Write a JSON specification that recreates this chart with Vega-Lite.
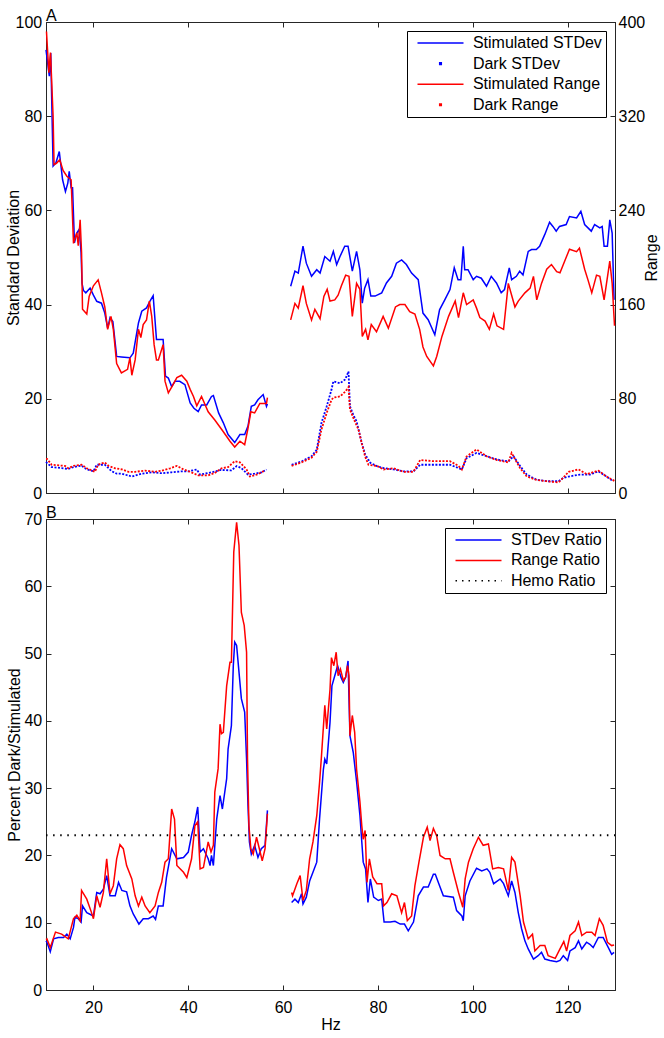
{
  "$schema": "https://vega.github.io/schema/vega-lite/v6.json",
  "padding": {"left": 4, "top": 7, "right": 5, "bottom": 4},
  "background": "white",
  "config": {
    "font": "Liberation Sans",
    "view": {"stroke": "#262626", "strokeWidth": 1},
    "axis": {
      "labelFont": "Liberation Sans", "titleFont": "Liberation Sans",
      "labelFontSize": 16, "titleFontSize": 16, "titleFontWeight": "normal",
      "labelColor": "#000", "titleColor": "#000",
      "domainColor": "#262626", "tickColor": "#262626", "domainWidth": 1, "tickWidth": 1,
      "tickSize": -5, "grid": false
    },
    "axisBottom": {"labelPadding": 14, "titlePadding": 1},
    "title": {"font": "Liberation Sans", "fontSize": 16, "fontWeight": "normal", "color": "#000", "anchor": "start", "frame": "group", "offset": -10}
  },
  "datasets": {
    "sdStim": [
      {"h":10,"v":94.1},{"h":10.7,"v":88.5},{"h":11,"v":93.4},{"h":11.5,"v":69.4},{"h":12.1,"v":70.1},{"h":12.8,"v":72.5},{"h":13.5,"v":66.5},{"h":14.1,"v":64},{"h":14.6,"v":65.8},{"h":14.9,"v":68.3},{"h":15.3,"v":64.8},{"h":15.6,"v":64.8},{"h":16,"v":53.1},{"h":16.5,"v":55.2},{"h":17,"v":56},{"h":17.4,"v":51},{"h":17.6,"v":44.5},{"h":17.9,"v":43},{"h":18.4,"v":42.5},{"h":19.3,"v":43.5},{"h":20,"v":42},{"h":20.7,"v":40.7},{"h":21.7,"v":40.3},{"h":22.4,"v":38.2},{"h":23,"v":35},{"h":23.5,"v":37.2},{"h":24.1,"v":36.4},{"h":24.9,"v":29},{"h":25.9,"v":28.9},{"h":27.7,"v":28.7},{"h":28.4,"v":29.7},{"h":29.5,"v":36.1},{"h":30.2,"v":38.6},{"h":31.2,"v":39.3},{"h":31.9,"v":40.7},{"h":32.6,"v":41.9},{"h":33.3,"v":32.6},{"h":34.7,"v":32.6},{"h":35.2,"v":24.8},{"h":35.8,"v":24.4},{"h":36.5,"v":22.6},{"h":37.2,"v":23.7},{"h":38.2,"v":23.7},{"h":39.3,"v":23},{"h":40.4,"v":19.1},{"h":41.2,"v":18},{"h":42.1,"v":17.3},{"h":42.8,"v":18.7},{"h":43.9,"v":18.7},{"h":44.9,"v":20.5},{"h":45.3,"v":20.7},{"h":46.4,"v":17},{"h":47.4,"v":14.9},{"h":48.4,"v":12.4},{"h":49.8,"v":10.7},{"h":50.9,"v":12.4},{"h":51.9,"v":12.4},{"h":52.6,"v":14.2},{"h":53.3,"v":18.4},{"h":54,"v":18.7},{"h":54.7,"v":19.8},{"h":55.8,"v":20.9},{"h":56.5,"v":18.4},{"h":56.7,"v":18.9},
      {"h":59,"v":null},
      {"h":61.6,"v":43.9},{"h":62.5,"v":47.1},{"h":63.2,"v":46.7},{"h":64.2,"v":52.4},{"h":64.9,"v":48.8},{"h":66,"v":46},{"h":67.1,"v":47.4},{"h":67.8,"v":46.7},{"h":68.8,"v":50.2},{"h":69.9,"v":49.2},{"h":70.6,"v":51.3},{"h":71.3,"v":48.5},{"h":72,"v":50.2},{"h":73,"v":52.4},{"h":73.7,"v":52.4},{"h":74.6,"v":47.1},{"h":75.5,"v":51.3},{"h":76.2,"v":47.4},{"h":76.7,"v":40.3},{"h":77.2,"v":43.5},{"h":77.9,"v":45.3},{"h":78.5,"v":41.8},{"h":79.4,"v":41.8},{"h":80.8,"v":42.5},{"h":81.8,"v":44.6},{"h":82.9,"v":46},{"h":83.9,"v":48.8},{"h":85,"v":49.5},{"h":86,"v":48.5},{"h":87.1,"v":46.7},{"h":88.5,"v":45.3},{"h":89.5,"v":38.2},{"h":90.6,"v":36.8},{"h":92,"v":33.6},{"h":93,"v":38.9},{"h":94.1,"v":41},{"h":95.2,"v":43.2},{"h":96.1,"v":47.8},{"h":96.9,"v":45.3},{"h":97.5,"v":45.3},{"h":98,"v":52.4},{"h":98.3,"v":47.4},{"h":99,"v":47.4},{"h":100.1,"v":45.3},{"h":100.8,"v":46},{"h":101.8,"v":45.6},{"h":102.9,"v":43.9},{"h":103.9,"v":46},{"h":105,"v":44.6},{"h":106,"v":42.5},{"h":106.7,"v":43.2},{"h":107.7,"v":47.8},{"h":108.2,"v":45.3},{"h":109.2,"v":46},{"h":109.9,"v":47.1},{"h":110.6,"v":46.3},{"h":111.7,"v":51.3},{"h":112.4,"v":51.7},{"h":113.4,"v":51.7},{"h":114.1,"v":52.4},{"h":115.2,"v":54.9},{"h":116.2,"v":57.5},{"h":116.9,"v":56.6},{"h":117.6,"v":55.6},{"h":118.3,"v":56.6},{"h":119.7,"v":57},{"h":120.4,"v":58.7},{"h":121.9,"v":58.4},{"h":122.8,"v":59.8},{"h":123.6,"v":57},{"h":125,"v":55.6},{"h":125.7,"v":57},{"h":126.8,"v":56.3},{"h":127.3,"v":56.6},{"h":127.7,"v":52.4},{"h":128.4,"v":52.4},{"h":128.9,"v":58},{"h":129.4,"v":55.2},{"h":129.8,"v":41}
    ],
    "rgStim": [
      {"h":10.1,"v":392},{"h":10.6,"v":357},{"h":10.95,"v":374},{"h":11.5,"v":320},{"h":11.7,"v":279},{"h":12.2,"v":280},{"h":12.9,"v":283},{"h":13.6,"v":274},{"h":14.4,"v":269},{"h":15.3,"v":266},{"h":15.8,"v":212},{"h":16.5,"v":221},{"h":16.8,"v":210},{"h":17.2,"v":232},{"h":17.5,"v":204},{"h":17.7,"v":156},{"h":18.6,"v":152},{"h":19.1,"v":167},{"h":20,"v":176},{"h":21,"v":181},{"h":21.7,"v":170},{"h":22.4,"v":158},{"h":23,"v":139},{"h":23.7,"v":150},{"h":24.2,"v":139},{"h":24.9,"v":110},{"h":25.9,"v":102},{"h":27.2,"v":105},{"h":27.7,"v":115},{"h":28.1,"v":100},{"h":28.8,"v":113},{"h":29.5,"v":139},{"h":30,"v":132},{"h":30.5,"v":143},{"h":31.2,"v":147},{"h":31.8,"v":163},{"h":32.3,"v":150},{"h":32.8,"v":126},{"h":33.3,"v":113},{"h":33.7,"v":113},{"h":34.7,"v":126},{"h":35.1,"v":95},{"h":35.8,"v":85},{"h":36.5,"v":90},{"h":37.6,"v":98},{"h":38.6,"v":100},{"h":39.7,"v":95},{"h":40.4,"v":88},{"h":41.1,"v":82},{"h":41.8,"v":74},{"h":42.8,"v":82},{"h":44.2,"v":69},{"h":45.6,"v":62},{"h":47.4,"v":52},{"h":48.8,"v":44},{"h":49.8,"v":39},{"h":50.9,"v":44},{"h":51.9,"v":41},{"h":52.6,"v":55},{"h":53.2,"v":69},{"h":54,"v":68},{"h":55.1,"v":76},{"h":56.5,"v":76},{"h":56.7,"v":81},
      {"h":59,"v":null},
      {"h":61.6,"v":147},{"h":62.5,"v":161},{"h":63.2,"v":157},{"h":64.2,"v":176},{"h":64.9,"v":161},{"h":66,"v":147},{"h":66.7,"v":156},{"h":67.8,"v":148},{"h":68.6,"v":167},{"h":69.3,"v":173},{"h":69.9,"v":163},{"h":70.9,"v":164},{"h":71.6,"v":168},{"h":72.3,"v":176},{"h":73.2,"v":185},{"h":73.9,"v":184},{"h":74.6,"v":150},{"h":75.5,"v":178},{"h":76.2,"v":173},{"h":76.7,"v":133},{"h":77.4,"v":139},{"h":77.9,"v":130},{"h":78.6,"v":143},{"h":79.7,"v":137},{"h":81.1,"v":150},{"h":82.2,"v":140},{"h":83.7,"v":158},{"h":84.6,"v":160},{"h":85.7,"v":160},{"h":86.7,"v":154},{"h":87.8,"v":152},{"h":88.8,"v":139},{"h":89.5,"v":124},{"h":90.3,"v":116},{"h":91.7,"v":108},{"h":92.4,"v":116},{"h":93.5,"v":133},{"h":94.9,"v":150},{"h":96.3,"v":163},{"h":97,"v":149},{"h":98,"v":170},{"h":98.7,"v":160},{"h":100.1,"v":164},{"h":100.8,"v":157},{"h":101.5,"v":149},{"h":102.6,"v":146},{"h":103.5,"v":139},{"h":104.4,"v":152},{"h":105.1,"v":142},{"h":106.5,"v":139},{"h":107.5,"v":178},{"h":108.2,"v":168},{"h":108.9,"v":158},{"h":109.6,"v":163},{"h":111,"v":170},{"h":112.1,"v":174},{"h":112.8,"v":184},{"h":113.5,"v":164},{"h":114.5,"v":178},{"h":115.6,"v":190},{"h":116.6,"v":194},{"h":117.7,"v":188},{"h":118.4,"v":187},{"h":119.8,"v":201},{"h":120.4,"v":207},{"h":121.9,"v":205},{"h":122.5,"v":208},{"h":123.6,"v":190},{"h":124.3,"v":181},{"h":125.1,"v":170},{"h":126.1,"v":185},{"h":126.8,"v":184},{"h":127.7,"v":164},{"h":128.9,"v":197},{"h":129.4,"v":178},{"h":129.9,"v":142}
    ],
    "sdDark": [
      {"h":10,"v":6.6},{"h":10.2,"v":6.4},{"h":11.2,"v":5.5},{"h":13.3,"v":5.3},{"h":14.7,"v":5.1},{"h":15.8,"v":5.5},{"h":17.5,"v":5.8},{"h":18.6,"v":5},{"h":20,"v":4.6},{"h":20.7,"v":6},{"h":22.4,"v":6},{"h":23.9,"v":4.6},{"h":24.9,"v":4.1},{"h":26,"v":4.1},{"h":28.1,"v":3.5},{"h":30.2,"v":4.1},{"h":32.3,"v":4.4},{"h":34.4,"v":4.2},{"h":36.5,"v":4.4},{"h":38.6,"v":4.6},{"h":40,"v":4.6},{"h":41.8,"v":5},{"h":42.5,"v":3.9},{"h":44.9,"v":4.4},{"h":47,"v":4.9},{"h":49.1,"v":4.8},{"h":50.2,"v":5.7},{"h":51.2,"v":5.3},{"h":52.6,"v":3.9},{"h":54,"v":4.1},{"h":55.5,"v":4.4},{"h":56.5,"v":5},
      {"h":59,"v":null},
      {"h":61.8,"v":6},{"h":63.9,"v":6.7},{"h":66,"v":7.8},{"h":67.1,"v":9.2},{"h":68.1,"v":14.9},{"h":69.2,"v":18.4},{"h":70.2,"v":21.9},{"h":70.6,"v":23.7},{"h":72,"v":23.3},{"h":73.1,"v":24.1},{"h":73.8,"v":25.8},{"h":74.1,"v":18.4},{"h":74.8,"v":16.6},{"h":75.5,"v":15.2},{"h":76.6,"v":10.6},{"h":77.3,"v":8.2},{"h":78.4,"v":6.4},{"h":79.8,"v":5.7},{"h":81.2,"v":5.3},{"h":83.3,"v":5},{"h":85.4,"v":4.6},{"h":87.5,"v":4.6},{"h":88.9,"v":6},{"h":91.7,"v":6},{"h":95.2,"v":6},{"h":97,"v":5.3},{"h":97.7,"v":5},{"h":98.7,"v":7.4},{"h":100.8,"v":8.5},{"h":103,"v":7.8},{"h":105.1,"v":7.1},{"h":107.5,"v":6.7},{"h":108.6,"v":7.8},{"h":110,"v":5.7},{"h":111.4,"v":3.9},{"h":113.5,"v":2.8},{"h":115.6,"v":2.5},{"h":118.1,"v":2.5},{"h":119.1,"v":3.2},{"h":120.2,"v":3.5},{"h":122.6,"v":3.9},{"h":124.7,"v":3.9},{"h":126.5,"v":4.6},{"h":128.2,"v":3.5},{"h":129.6,"v":2.5}
    ],
    "rgDark": [
      {"h":10,"v":29},{"h":10.2,"v":29},{"h":11.2,"v":24},{"h":14,"v":23},{"h":14.7,"v":21},{"h":15.8,"v":23},{"h":17.5,"v":24},{"h":18.6,"v":21},{"h":20.3,"v":18},{"h":21,"v":24},{"h":22.4,"v":26},{"h":23.2,"v":23},{"h":24.6,"v":21},{"h":26,"v":20},{"h":27.4,"v":18},{"h":28.8,"v":18},{"h":30.9,"v":19},{"h":33,"v":18},{"h":34.4,"v":19},{"h":36.2,"v":21},{"h":37.6,"v":23},{"h":39,"v":20},{"h":40.4,"v":18},{"h":42.1,"v":15},{"h":44.2,"v":15},{"h":45.6,"v":17},{"h":47,"v":21},{"h":48.4,"v":22},{"h":49.8,"v":27},{"h":50.9,"v":26},{"h":52.3,"v":20},{"h":53,"v":14},{"h":54.7,"v":16},{"h":56.1,"v":19},
      {"h":59,"v":null},
      {"h":61.8,"v":23},{"h":63.9,"v":26},{"h":66,"v":30},{"h":67.1,"v":35},{"h":68.1,"v":54},{"h":69.2,"v":68},{"h":70.2,"v":79},{"h":70.6,"v":81},{"h":72,"v":82},{"h":73.1,"v":86},{"h":73.8,"v":90},{"h":74.1,"v":71},{"h":75.2,"v":60},{"h":75.9,"v":54},{"h":76.6,"v":42},{"h":77.3,"v":31},{"h":78,"v":24},{"h":79.8,"v":23},{"h":81.2,"v":20},{"h":83.3,"v":21},{"h":85.4,"v":18},{"h":87.5,"v":18},{"h":88.9,"v":28},{"h":91.7,"v":27},{"h":95.2,"v":27},{"h":97,"v":23},{"h":97.7,"v":20},{"h":98.7,"v":31},{"h":100.8,"v":37},{"h":103,"v":31},{"h":105.1,"v":28},{"h":107.5,"v":26},{"h":108.2,"v":34},{"h":110,"v":21},{"h":111.4,"v":14},{"h":113.5,"v":11},{"h":115.6,"v":10},{"h":118.1,"v":9},{"h":119.1,"v":13},{"h":120.2,"v":18},{"h":122.3,"v":20},{"h":124,"v":16},{"h":126.5,"v":19},{"h":128.2,"v":14},{"h":130,"v":10}
    ],
    "sdRatio": [
      {"h":10,"v":7.3},{"h":10.2,"v":7.1},{"h":10.9,"v":5.7},{"h":11.6,"v":7.6},{"h":12.6,"v":7.8},{"h":13.7,"v":7.8},{"h":14.4,"v":8.3},{"h":15.1,"v":7.6},{"h":15.8,"v":9.3},{"h":16.1,"v":10.8},{"h":16.8,"v":10.6},{"h":17.4,"v":10.1},{"h":17.7,"v":12.5},{"h":18.6,"v":11.5},{"h":20,"v":11},{"h":20.7,"v":14.5},{"h":21.4,"v":14.3},{"h":22.1,"v":15},{"h":22.8,"v":17},{"h":23.5,"v":14},{"h":24.6,"v":14},{"h":25.3,"v":16},{"h":26,"v":14.8},{"h":27,"v":14.6},{"h":27.7,"v":12.5},{"h":28.4,"v":11.3},{"h":29.6,"v":9.8},{"h":30.5,"v":10.6},{"h":31.6,"v":10.6},{"h":32.6,"v":11},{"h":33.1,"v":10.5},{"h":33.7,"v":12.5},{"h":34.7,"v":12.5},{"h":35.4,"v":16.7},{"h":36.5,"v":21},{"h":37.6,"v":19.5},{"h":39,"v":19.7},{"h":40,"v":20.5},{"h":40.7,"v":23},{"h":41.4,"v":25},{"h":42,"v":27.2},{"h":42.5,"v":20.5},{"h":43.2,"v":21},{"h":44.2,"v":19.5},{"h":44.6,"v":18.5},{"h":44.9,"v":20},{"h":45.3,"v":18.5},{"h":46,"v":25.4},{"h":46.7,"v":28.9},{"h":47.2,"v":26.9},{"h":48.1,"v":31.4},{"h":48.4,"v":35.8},{"h":49.1,"v":39.3},{"h":49.5,"v":48.2},{"h":49.8,"v":51.7},{"h":50.2,"v":51.2},{"h":51.2,"v":43.3},{"h":51.9,"v":41.3},{"h":52.3,"v":34.3},{"h":52.6,"v":27.4},{"h":52.9,"v":22},{"h":53.3,"v":20.2},{"h":54,"v":21.5},{"h":54.7,"v":19.7},{"h":55.4,"v":21},{"h":56.2,"v":21.5},{"h":56.7,"v":26.7},
      {"h":59,"v":null},
      {"h":61.8,"v":13},{"h":62.5,"v":13.5},{"h":63.2,"v":13},{"h":63.9,"v":14.3},{"h":64.2,"v":12.8},{"h":64.9,"v":13.8},{"h":65.6,"v":16.2},{"h":66.3,"v":17.5},{"h":67.1,"v":19},{"h":67.7,"v":25.5},{"h":68.5,"v":32.8},{"h":68.8,"v":34.3},{"h":69.2,"v":33.6},{"h":69.9,"v":39.8},{"h":70.3,"v":45.2},{"h":70.9,"v":46.7},{"h":71.5,"v":48.2},{"h":72.2,"v":46.5},{"h":72.7,"v":45.7},{"h":73.2,"v":46.5},{"h":73.7,"v":48.9},{"h":74.1,"v":37.8},{"h":74.8,"v":35.3},{"h":75.5,"v":31},{"h":76.2,"v":26},{"h":76.9,"v":19},{"h":77.4,"v":18},{"h":77.9,"v":13},{"h":78.4,"v":16.5},{"h":79.1,"v":13.8},{"h":80.1,"v":13.3},{"h":80.8,"v":13.5},{"h":81.3,"v":10.1},{"h":82.6,"v":10.1},{"h":83.6,"v":10.2},{"h":84.7,"v":9.8},{"h":85.6,"v":9.8},{"h":86.4,"v":8.8},{"h":87.5,"v":10.1},{"h":88.5,"v":14},{"h":89.6,"v":15.3},{"h":90.6,"v":15.3},{"h":91.7,"v":17.2},{"h":92.1,"v":17.2},{"h":93.1,"v":15.3},{"h":93.8,"v":14},{"h":95.9,"v":13.8},{"h":96.6,"v":11.8},{"h":97.7,"v":11},{"h":98,"v":10.3},{"h":98.4,"v":14},{"h":99.4,"v":16.2},{"h":100.8,"v":18.1},{"h":101.9,"v":17.7},{"h":103,"v":18},{"h":103.6,"v":17.5},{"h":104.4,"v":15.8},{"h":105.8,"v":16.5},{"h":106.5,"v":15.8},{"h":107.5,"v":14},{"h":108.2,"v":16.2},{"h":108.9,"v":14.5},{"h":109.6,"v":11.5},{"h":110.3,"v":9.1},{"h":111,"v":7.3},{"h":111.7,"v":6.1},{"h":112.8,"v":4.6},{"h":113.8,"v":5.1},{"h":114.5,"v":5.6},{"h":115.2,"v":4.6},{"h":116.3,"v":4.4},{"h":117.7,"v":4.2},{"h":118.4,"v":4.4},{"h":119.1,"v":5.1},{"h":120,"v":4.4},{"h":120.5,"v":5.8},{"h":121.6,"v":6.3},{"h":122.3,"v":7.3},{"h":123,"v":6.1},{"h":124,"v":7.1},{"h":124.7,"v":6.8},{"h":125.4,"v":6.3},{"h":126.5,"v":7.8},{"h":127.5,"v":7.8},{"h":128.6,"v":6.3},{"h":129.3,"v":5.3},{"h":129.8,"v":5.6}
    ],
    "rgRatio": [
      {"h":10,"v":7.5},{"h":10.2,"v":7.6},{"h":10.9,"v":6.3},{"h":12,"v":8.6},{"h":13.3,"v":8.3},{"h":14.7,"v":7.6},{"h":15.8,"v":10.6},{"h":16.5,"v":11.1},{"h":17.2,"v":10.3},{"h":17.5,"v":14.8},{"h":18.6,"v":13.5},{"h":19.6,"v":11.5},{"h":20,"v":10.6},{"h":20.7,"v":14},{"h":21.4,"v":12.3},{"h":22.1,"v":14.5},{"h":22.8,"v":19.5},{"h":23.5,"v":14.3},{"h":24.2,"v":15.5},{"h":24.9,"v":19.5},{"h":25.6,"v":21.6},{"h":26.3,"v":21},{"h":27,"v":18.5},{"h":28.1,"v":16.5},{"h":28.8,"v":14},{"h":29.5,"v":12.5},{"h":30.2,"v":13.8},{"h":30.9,"v":12.5},{"h":31.9,"v":11.5},{"h":33,"v":12.5},{"h":33.7,"v":14.5},{"h":34.4,"v":16},{"h":35.1,"v":19},{"h":35.8,"v":19.5},{"h":36.5,"v":26.9},{"h":37.1,"v":25.4},{"h":37.6,"v":18.5},{"h":39,"v":17.5},{"h":39.7,"v":16.7},{"h":40.7,"v":19.5},{"h":41.4,"v":24.4},{"h":42,"v":25},{"h":42.5,"v":18},{"h":43.2,"v":18.2},{"h":44.2,"v":22},{"h":44.8,"v":20.5},{"h":45.3,"v":21.5},{"h":45.6,"v":29.4},{"h":46.3,"v":32.9},{"h":46.7,"v":39.5},{"h":47,"v":38.1},{"h":47.4,"v":38.3},{"h":48.1,"v":45.2},{"h":48.8,"v":48.7},{"h":49.1,"v":48.7},{"h":49.6,"v":65.1},{"h":50.2,"v":69.5},{"h":50.7,"v":66.1},{"h":51.2,"v":56.1},{"h":51.8,"v":54.2},{"h":52.3,"v":50.2},{"h":52.5,"v":34.3},{"h":52.8,"v":24.4},{"h":53.2,"v":21},{"h":53.7,"v":20.2},{"h":54.4,"v":22.7},{"h":55.1,"v":20.7},{"h":55.6,"v":19.2},{"h":56.2,"v":21},{"h":56.7,"v":26.2},
      {"h":59,"v":null},
      {"h":61.8,"v":14.5},{"h":62,"v":14},{"h":62.9,"v":15.8},{"h":63.6,"v":17},{"h":64.2,"v":13.3},{"h":64.9,"v":14.8},{"h":65.6,"v":19.5},{"h":66.3,"v":22},{"h":67.1,"v":25.9},{"h":67.7,"v":30.9},{"h":68.1,"v":34.8},{"h":68.8,"v":42.3},{"h":69.2,"v":38.8},{"h":69.9,"v":44.7},{"h":70.2,"v":49.4},{"h":70.7,"v":48.2},{"h":71.2,"v":50.2},{"h":71.6,"v":46.7},{"h":72.1,"v":47.7},{"h":72.7,"v":46},{"h":73.2,"v":46.5},{"h":73.6,"v":48.2},{"h":73.9,"v":46.7},{"h":74.1,"v":37.8},{"h":74.6,"v":40.8},{"h":75.1,"v":38.3},{"h":75.5,"v":32.8},{"h":76.2,"v":28},{"h":76.6,"v":24.4},{"h":76.9,"v":22.4},{"h":77.3,"v":23.7},{"h":77.7,"v":16},{"h":78.2,"v":19.5},{"h":78.9,"v":16.8},{"h":79.8,"v":15.8},{"h":80.8,"v":15.8},{"h":81.2,"v":12.5},{"h":81.9,"v":13},{"h":82.9,"v":14.3},{"h":84,"v":14},{"h":85,"v":11.5},{"h":85.6,"v":13},{"h":86.2,"v":10.3},{"h":87.1,"v":11},{"h":87.8,"v":15.5},{"h":88.7,"v":19.2},{"h":89.6,"v":22.7},{"h":90.4,"v":24.2},{"h":91,"v":22.2},{"h":91.7,"v":24},{"h":92.4,"v":22.9},{"h":93.1,"v":20},{"h":94.2,"v":19.5},{"h":95.2,"v":19.5},{"h":95.9,"v":17.5},{"h":97,"v":14.5},{"h":97.9,"v":12.3},{"h":98.4,"v":16.5},{"h":99.1,"v":19},{"h":100.1,"v":21},{"h":101.2,"v":22.7},{"h":102.2,"v":21.5},{"h":103.3,"v":21.7},{"h":104.2,"v":18},{"h":105.4,"v":18.2},{"h":106.5,"v":18},{"h":107.5,"v":14.8},{"h":108.2,"v":19.7},{"h":108.9,"v":19},{"h":110,"v":14},{"h":110.7,"v":10.1},{"h":111.7,"v":7.6},{"h":112.6,"v":8.3},{"h":113.1,"v":5.8},{"h":114.2,"v":6.6},{"h":115.2,"v":6.6},{"h":115.9,"v":5.1},{"h":117.4,"v":4.7},{"h":118.4,"v":6.1},{"h":119.2,"v":7.2},{"h":119.8,"v":5.8},{"h":120.5,"v":8.1},{"h":121.6,"v":8.8},{"h":122.3,"v":10.1},{"h":123,"v":8.1},{"h":124,"v":8.6},{"h":125.1,"v":8.6},{"h":125.8,"v":8.1},{"h":126.7,"v":10.6},{"h":127.5,"v":9.6},{"h":128.4,"v":7.1},{"h":129.3,"v":6.6},{"h":129.8,"v":6.7}
    ],
    "hemo": [{"h":10,"v":23},{"h":130,"v":23}]
  },
  "spacing": 2,
  "resolve": {"scale": {"color": "independent"}, "legend": {"color": "independent"}},
  "vconcat": [
    {
      "title": {"text": "A"},
      "width": 569,
      "height": 471,
      "resolve": {"scale": {"y": "independent"}, "axis": {"x": "independent", "y": "independent"}},
      "layer": [
        {
          "data": {"name": "sdStim"},
          "mark": {"type": "line", "strokeWidth": 1.5, "invalid": "break-paths-filter-domains"},
          "encoding": {
            "x": {"field": "h", "type": "quantitative", "scale": {"domain": [10, 130], "nice": false, "zero": false}, "axis": {"orient": "bottom", "labels": false, "title": null, "labelPadding": 0, "values": [20, 40, 60, 80, 100, 120]}},
            "y": {"field": "v", "type": "quantitative", "scale": {"domain": [0, 100], "nice": false}, "axis": {"orient": "left", "title": "Standard Deviation", "values": [0, 20, 40, 60, 80, 100], "labelPadding": 9.3, "titlePadding": -6}},
            "color": {
              "datum": "Stimulated STDev", "type": "nominal",
              "scale": {"domain": ["Stimulated STDev", "Dark STDev", "Stimulated Range", "Dark Range"], "range": ["#0000ff", "#0000ff", "#ff0000", "#ff0000"]},
              "legend": {
                "title": null, "orient": "top-right", "offset": 9, "padding": 4,
                "strokeColor": "#000",
                "symbolType": "stroke", "symbolSize": 2116, "symbolStrokeWidth": 1.5,
                "clipHeight": 16, "rowPadding": 4.6, "symbolOffset": 5.5, "labelOffset": 8.4,
                "labelFontSize": 16, "labelFont": "Liberation Sans", "labelColor": "#000", "labelLimit": 400,
                "encode": {"symbols": {"update": {
                  "shape": {"signal": "indexof(datum.value, 'Dark') === 0 ? 'M-0.035,-0.035H0.035V0.035H-0.035Z' : 'stroke'"},
                  "fill": {"signal": "indexof(datum.value, 'STDev') >= 0 ? '#0000ff' : '#ff0000'"},
                  "stroke": {"signal": "indexof(datum.value, 'Dark') === 0 ? 'transparent' : (indexof(datum.value, 'STDev') >= 0 ? '#0000ff' : '#ff0000')"},
                  "opacity": {"value": 1}
                }}}
              }
            }
          }
        },
        {
          "data": {"name": "sdDark"},
          "mark": {"type": "line", "strokeWidth": 1.8, "strokeDash": [2, 1.5], "invalid": "break-paths-filter-domains"},
          "encoding": {
            "x": {"field": "h", "type": "quantitative", "scale": {"domain": [10, 130], "nice": false, "zero": false}, "axis": {"orient": "top", "labels": false, "title": null, "labelPadding": 0, "values": [20, 40, 60, 80, 100, 120]}},
            "y": {"field": "v", "type": "quantitative", "scale": {"domain": [0, 100], "nice": false}, "axis": null},
            "color": {"datum": "Dark STDev", "type": "nominal"}
          }
        },
        {
          "data": {"name": "rgStim"},
          "mark": {"type": "line", "strokeWidth": 1.5, "invalid": "break-paths-filter-domains"},
          "encoding": {
            "x": {"field": "h", "type": "quantitative", "scale": {"domain": [10, 130], "nice": false, "zero": false}, "axis": null},
            "y": {"field": "v", "type": "quantitative", "scale": {"domain": [0, 400], "nice": false}, "axis": {"orient": "right", "title": "Range", "values": [0, 80, 160, 240, 320, 400], "labelPadding": 8, "titleAngle": -90, "titleBaseline": "top", "titlePadding": -1.5}},
            "color": {"datum": "Stimulated Range", "type": "nominal"}
          }
        },
        {
          "data": {"name": "rgDark"},
          "mark": {"type": "line", "strokeWidth": 1.8, "strokeDash": [2, 1.5], "invalid": "break-paths-filter-domains"},
          "encoding": {
            "x": {"field": "h", "type": "quantitative", "scale": {"domain": [10, 130], "nice": false, "zero": false}, "axis": null},
            "y": {"field": "v", "type": "quantitative", "scale": {"domain": [0, 400], "nice": false}, "axis": null},
            "color": {"datum": "Dark Range", "type": "nominal"}
          }
        }
      ]
    },
    {
      "title": {"text": "B"},
      "width": 569,
      "height": 471,
      "resolve": {"axis": {"x": "independent", "y": "independent"}},
      "layer": [
        {
          "data": {"name": "sdRatio"},
          "mark": {"type": "line", "strokeWidth": 1.5, "invalid": "break-paths-filter-domains"},
          "encoding": {
            "x": {"field": "h", "type": "quantitative", "scale": {"domain": [10, 130], "nice": false, "zero": false}, "axis": {"orient": "bottom", "title": "Hz", "values": [20, 40, 60, 80, 100, 120]}},
            "y": {"field": "v", "type": "quantitative", "scale": {"domain": [0, 70], "nice": false}, "axis": {"orient": "left", "title": "Percent Dark/Stimulated", "values": [0, 10, 20, 30, 40, 50, 60, 70], "labelPadding": 9.3, "titlePadding": 1.1}},
            "color": {
              "datum": "STDev Ratio", "type": "nominal",
              "scale": {"domain": ["STDev Ratio", "Range Ratio", "Hemo Ratio"], "range": ["#0000ff", "#ff0000", "#000000"]},
              "legend": {
                "title": null, "orient": "top-right", "offset": 9, "padding": 4,
                "strokeColor": "#000",
                "symbolType": "stroke", "symbolSize": 2116, "symbolStrokeWidth": 1.5,
                "clipHeight": 16, "rowPadding": 4.4, "symbolOffset": 5.5, "labelOffset": 8.4,
                "labelFontSize": 16, "labelFont": "Liberation Sans", "labelColor": "#000", "labelLimit": 400,
                "encode": {"symbols": {"update": {
                  "shape": {"value": "stroke"},
                  "stroke": {"signal": "datum.value === 'STDev Ratio' ? '#0000ff' : (datum.value === 'Range Ratio' ? '#ff0000' : '#000000')"},
                  "strokeDash": {"signal": "datum.value === 'Hemo Ratio' ? [1.5, 5] : [1, 0]"},
                  "opacity": {"value": 1}
                }}}
              }
            }
          }
        },
        {
          "data": {"name": "rgRatio"},
          "mark": {"type": "line", "strokeWidth": 1.5, "invalid": "break-paths-filter-domains"},
          "encoding": {
            "x": {"field": "h", "type": "quantitative", "scale": {"domain": [10, 130], "nice": false, "zero": false}, "axis": {"orient": "top", "labels": false, "title": null, "labelPadding": 0, "values": [20, 40, 60, 80, 100, 120]}},
            "y": {"field": "v", "type": "quantitative", "scale": {"domain": [0, 70], "nice": false}, "axis": {"orient": "right", "labels": false, "title": null, "labelPadding": 0, "values": [0, 10, 20, 30, 40, 50, 60, 70]}},
            "color": {"datum": "Range Ratio", "type": "nominal"}
          }
        },
        {
          "data": {"name": "hemo"},
          "mark": {"type": "line", "strokeWidth": 2, "strokeDash": [1.5, 5.6]},
          "encoding": {
            "x": {"field": "h", "type": "quantitative", "scale": {"domain": [10, 130], "nice": false, "zero": false}, "axis": null},
            "y": {"field": "v", "type": "quantitative", "scale": {"domain": [0, 70], "nice": false}, "axis": null},
            "color": {"datum": "Hemo Ratio", "type": "nominal"}
          }
        }
      ]
    }
  ]
}
